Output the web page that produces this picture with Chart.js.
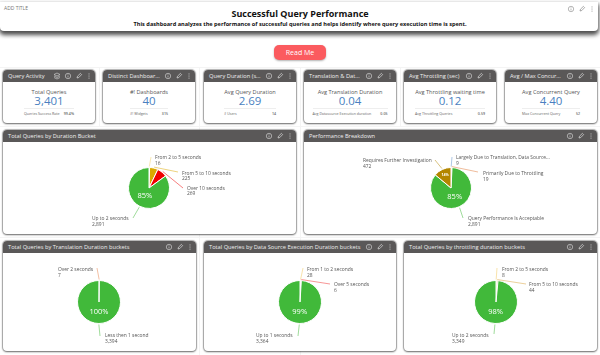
<!DOCTYPE html>
<html>
<head>
<meta charset="utf-8">
<script src="https://cdn.jsdelivr.net/npm/chart.js@4"></script>
<style>
  html, body { margin: 0; padding: 0; background: #fff; }
  body { width: 600px; height: 355px; overflow: hidden; position: relative; font-family: "Open Sans", sans-serif; color: #555; }
  .guide { position: absolute; background: #f4f4f4; }
  .banner { position: absolute; left: 0; top: 2px; width: 598px; height: 29px; background: #fff; border-radius: 0 0 4px 4px; box-shadow: 0 3px 4px 1px rgba(0,0,0,.7); }
  .add-title { position: absolute; left: 4px; top: 3px; font-size: 5px; line-height: 7px; color: #777; }
  .title { position: absolute; left: 0; width: 600px; top: 8px; text-align: center; font-size: 9px; line-height: 12px; font-weight: 700; color: #111; }
  .subtitle { position: absolute; left: 0; width: 600px; top: 20px; text-align: center; font-size: 5.6px; line-height: 8px; font-weight: 700; color: #111; }
  .read-me { position: absolute; left: 274px; top: 45px; width: 52px; height: 15px; line-height: 15px; border-radius: 5px; background: #fb5b5f; color: #fff; text-align: center; font-size: 7px; box-shadow: 0 1px 2px rgba(0,0,0,.3); }
  .card { position: absolute; background: #fff; border-radius: 4px; box-shadow: 0 0 1px 1px rgba(90,90,90,.45), 0 1px 2px rgba(0,0,0,.45); overflow: hidden; }
  .head { position: absolute; left: 0; right: 0; top: 0; height: 12px; background: #5a5858; color: #eee; font-size: 5.7px; line-height: 12px; padding-left: 5px; white-space: nowrap; }
  .icons { position: absolute; right: 3px; top: 2px; height: 8px; display: flex; gap: 3px; }
  .kpi-name { position: absolute; left: 0; right: 0; top: 18px; text-align: center; font-size: 5.6px; line-height: 8px; color: #555; }
  .kpi-value { position: absolute; left: 0; right: 0; top: 23px; text-align: center; font-size: 11.5px; line-height: 15px; color: #4a7fc0; }
  .kpi-foot { position: absolute; top: 38px; border-top: 1px solid #eee; display: flex; justify-content: space-between; font-size: 3.6px; line-height: 9px; color: #666; white-space: nowrap; }
  .kpi-foot b { font-weight: 600; }
  canvas { position: absolute; left: 0; top: 12px; }
</style>
</head>
<body>
<script>
const kpiTitles = ['Query Activity', 'Distinct Dashboar...', 'Query Duration (s...', 'Translation & Dat...', 'Avg Throttling (sec)', 'Avg / Max Concur...'];
const kpiNames = ['Total Queries', '#! Dashboards', 'Avg Query Duration', 'Avg Translation Duration', 'Avg Throttling waiting time', 'Avg Concurrent Query'];
const kpiValues = ['3,401', '40', '2.69', '0.04', '0.12', '4.40'];
const kpiFootNames = ['Queries Success Rate', '#! Widgets', '# Users', 'Avg Datasource Execution duration', 'Avg Throttling Queries', 'Max Concurrent Query'];
const kpiFootValues = ['99.4%', '315', '14', '0.05', '0.59', '52'];

const durationLabels = ['From 2 to 5 seconds', 'From 5 to 10 seconds', 'Over 10 seconds', 'Up to 2 seconds'];
const durationValues = [16, 225, 269, 2891];
const breakdownLabels = ['Largely Due to Translation, Data Source...', 'Primarily Due to Throttling', 'Query Performance Is Acceptable', 'Requires Further Investigation'];
const breakdownValues = [9, 19, 2891, 472];
const translationLabels = ['Over 2 seconds', 'Less then 1 second'];
const translationValues = [7, 3394];
const sourceLabels = ['From 1 to 2 seconds', 'Over 5 seconds', 'Up to 1 seconds'];
const sourceValues = [28, 6, 3364];
const throttlingLabels = ['From 2 to 5 seconds', 'From 5 to 10 seconds', 'Up to 2 seconds'];
const throttlingValues = [8, 44, 3349];

const GREEN = '#41b93a';

// card slots: x, width, footer width
const kpiSlots = [[3, 92, 50], [103, 92, 38], [204, 92, 52], [304, 92, 75], [404, 92, 70], [505, 92, 58]];

function add(parent, cls, text) {
  const el = document.createElement('div');
  el.className = cls;
  if (text !== undefined) el.textContent = text;
  parent.appendChild(el);
  return el;
}

function icons(head, extra) {
  const box = add(head, 'icons');
  const stroke = '#ddd';
  let html = '';
  if (extra) {
    html += `<svg width="8" height="8" viewBox="0 0 8 8"><path d="M1 2.5L4 1l3 1.5L4 4zM1 4l3 1.5L7 4M1 5.5L4 7l3-1.5" fill="none" stroke="${stroke}" stroke-width=".6"/></svg>`;
  }
  html += `<svg width="8" height="8" viewBox="0 0 8 8"><circle cx="4" cy="4" r="2.7" fill="none" stroke="${stroke}" stroke-width=".6"/><path d="M4 3.5v2M4 2.4v.6" stroke="${stroke}" stroke-width=".6"/></svg>`;
  html += `<svg width="8" height="8" viewBox="0 0 8 8"><path d="M2 6l.5-1.8L5.4 1.4l1.2 1.2L3.8 5.5z" fill="none" stroke="${stroke}" stroke-width=".7"/></svg>`;
  html += `<svg width="6" height="8" viewBox="0 0 6 8"><path d="M3 1.5v.9M3 3.6v.9M3 5.7v.9" stroke="${stroke}" stroke-width=".9"/></svg>`;
  box.innerHTML = html;
}

function card(x, y, w, h, title, extra) {
  const el = add(document.body, 'card');
  el.style.cssText = `left:${x}px;top:${y}px;width:${w}px;height:${h}px`;
  const head = add(el, 'head', title);
  icons(head, extra);
  return el;
}

// faint dashboard grid behind the cards
[[0, 67, 600, 1], [0, 126, 600, 1], [0, 237, 600, 1], [199, 67, 1, 288], [300, 67, 1, 288], [99, 67, 1, 60], [400, 67, 1, 60]].forEach(g => {
  const el = add(document.body, 'guide');
  el.style.cssText = `left:${g[0]}px;top:${g[1]}px;width:${g[2]}px;height:${g[3]}px`;
});

const banner = add(document.body, 'banner');
add(banner, 'add-title', 'ADD TITLE');
const bannerIcons = add(banner, 'icons');
bannerIcons.innerHTML = `<svg width="8" height="8" viewBox="0 0 8 8"><circle cx="4" cy="4" r="2.7" fill="none" stroke="#888" stroke-width=".6"/><path d="M4 3.5v2M4 2.4v.6" stroke="#888" stroke-width=".6"/></svg><svg width="8" height="8" viewBox="0 0 8 8"><path d="M2 6l.5-1.8L5.4 1.4l1.2 1.2L3.8 5.5z" fill="none" stroke="#888" stroke-width=".7"/></svg><svg width="6" height="8" viewBox="0 0 6 8"><path d="M3 1.5v.9M3 3.6v.9M3 5.7v.9" stroke="#888" stroke-width=".9"/></svg>`;
bannerIcons.style.top = '3px';
add(document.body, 'title', 'Successful Query Performance');
add(document.body, 'subtitle', 'This dashboard analyzes the performance of successful queries and helps identify where query execution time is spent.');
add(document.body, 'read-me', 'Read Me');

kpiSlots.forEach((s, i) => {
  const el = card(s[0], 70, s[1], 53, kpiTitles[i], i === 0);
  add(el, 'kpi-name', kpiNames[i]);
  add(el, 'kpi-value', kpiValues[i]);
  const foot = add(el, 'kpi-foot');
  foot.style.left = (s[1] - s[2]) / 2 + 'px';
  foot.style.width = s[2] + 'px';
  add(foot, '', kpiFootNames[i]);
  const v = add(foot, '');
  v.innerHTML = '<b>' + kpiFootValues[i] + '</b>';
});

// leader ends and label spots, measured from the pie centre
const calloutPlugin = {
  id: 'callouts',
  afterDatasetsDraw(chart, args, opts) {
    const ctx = chart.ctx;
    const meta = chart.getDatasetMeta(0);
    const ds = chart.data.datasets[0];
    const total = ds.data.reduce((a, b) => a + b, 0);
    ctx.save();
    meta.data.forEach((arc, i) => {
      const mid = (arc.startAngle + arc.endAngle) / 2;
      const r = arc.outerRadius;
      const c = opts.spots[i];
      const share = ds.data[i] / total;
      // leader
      ctx.strokeStyle = ds.backgroundColor[i];
      ctx.globalAlpha = 0.5;
      ctx.lineWidth = 1;
      ctx.beginPath();
      ctx.moveTo(arc.x + Math.cos(mid) * (r + 1), arc.y + Math.sin(mid) * (r + 1));
      ctx.lineTo(arc.x + c[0], arc.y + c[1]);
      ctx.stroke();
      ctx.globalAlpha = 1;
      // label + value
      ctx.fillStyle = '#555';
      ctx.font = '4.9px "Open Sans"';
      ctx.textAlign = 'left';
      ctx.textBaseline = 'middle';
      ctx.fillText(chart.data.labels[i], arc.x + c[2], arc.y + c[3]);
      ctx.fillText(ds.data[i].toLocaleString('en-US'), arc.x + c[2], arc.y + c[3] + 5.4);
      // share inside big slices
      if (share > 0.1) {
        const big = share > 0.5;
        ctx.fillStyle = '#fff';
        ctx.font = big ? '7.5px "Open Sans"' : 'bold 3.6px "Open Sans"';
        ctx.textAlign = 'center';
        const dist = big ? r * 0.45 : r * 0.68;
        ctx.fillText(Math.round(share * 100) + '%', arc.x + Math.cos(mid) * dist, arc.y + Math.sin(mid) * dist);
      }
    });
    ctx.restore();
  }
};

function pieCard(x, y, w, h, title, cx, cy, r, labels, values, colors, spots) {
  const el = card(x, y, w, h, title, false);
  const canvas = document.createElement('canvas');
  const cw = w, ch = h - 12;
  canvas.width = cw;
  canvas.height = ch;
  canvas.style.width = cw + 'px';
  canvas.style.height = ch + 'px';
  el.appendChild(canvas);
  const px = cx - x, py = cy - y - 12;
  new Chart(canvas.getContext('2d'), {
    type: 'pie',
    data: {
      labels: labels,
      datasets: [{ data: values, backgroundColor: colors, borderColor: '#fff', borderWidth: 1 }]
    },
    options: {
      responsive: false,
      animation: false,
      layout: { padding: { left: px - r, right: cw - px - r, top: py - r, bottom: ch - py - r } },
      plugins: {
        legend: { display: false },
        tooltip: { enabled: false },
        callouts: { spots: spots }
      }
    },
    plugins: [calloutPlugin]
  });
}

pieCard(3, 130, 293, 104, 'Total Queries by Duration Bucket', 149, 188, 21,
  durationLabels, durationValues, ['#f3d36b', '#dba800', '#f00000', GREEN],
  [[2, -31, 6, -30], [29, -16, 33, -14.5], [34, 0, 38, 0.5], [-16, 30, -57, 31]]);
pieCard(304, 130, 293, 104, 'Performance Breakdown', 451, 188, 21,
  breakdownLabels, breakdownValues, ['#5b8fc9', '#e07a3a', GREEN, '#b38600'],
  [[1, -31, 5, -30], [27, -16, 32, -14], [12, 30, 17, 31], [-16, -28, -88, -27]]);
pieCard(3, 241, 193, 110, 'Total Queries by Translation Duration buckets', 99, 302, 22,
  translationLabels, translationValues, ['#e8824a', GREEN],
  [[-2, -34, -41, -32], [1, 34, 6, 34]]);
pieCard(204, 241, 192, 110, 'Total Queries by Data Source Execution Duration buckets', 300, 302, 22,
  sourceLabels, sourceValues, ['#f3c85a', '#f03030', GREEN],
  [[3, -34, 7, -32], [30, -18, 34, -17], [-2, 34, -44, 34]]);
pieCard(404, 241, 193, 110, 'Total Queries by throttling duration buckets', 496, 302, 22,
  throttlingLabels, throttlingValues, ['#f3c85a', '#d9a23a', GREEN],
  [[1, -34, 6, -32], [30, -18, 33, -17], [-2, 32, -44, 34]]);
</script>
</body>
</html>
